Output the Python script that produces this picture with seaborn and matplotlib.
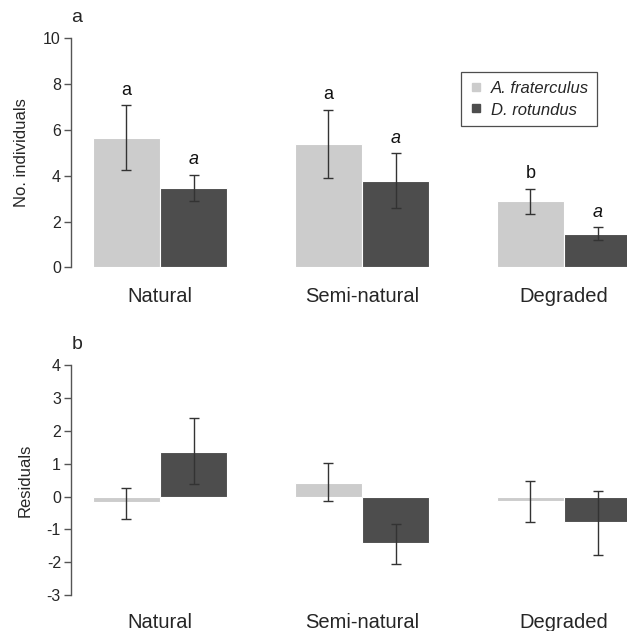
import matplotlib
matplotlib.use("Agg")
import matplotlib.pyplot as plt
from matplotlib.lines import Line2D
import seaborn as sns
import pandas as pd
import numpy as np

habitats = ["Natural", "Semi-natural", "Degraded"]
species = ["A. fraterculus", "D. rotundus"]

# Panel a: number of individuals (mean, lower, upper)
af_mean = [5.65, 5.37, 2.88]
af_low = [4.27, 3.89, 2.33]
af_high = [7.07, 6.88, 3.43]
dr_mean = [3.45, 3.77, 1.45]
dr_low = [2.89, 2.58, 1.19]
dr_high = [4.05, 4.98, 1.75]
af_letters = ["a", "a", "b"]
dr_letters = ["a", "a", "a"]

# Panel b: residuals (mean, lower, upper)
af_res = [-0.17, 0.42, -0.13]
af_res_low = [-0.67, -0.13, -0.77]
af_res_high = [0.27, 1.03, 0.46]
dr_res = [1.37, -1.42, -0.78]
dr_res_low = [0.39, -2.05, -1.79]
dr_res_high = [2.40, -0.83, 0.18]

light = "#cccccc"
dark = "#4d4d4d"
axis_col = "#555555"

sns.set_style("white")
plt.rcParams["font.family"] = ["Liberation Sans", "DejaVu Sans"]
plt.rcParams["axes.unicode_minus"] = False

fig = plt.figure(figsize=(6.27, 6.31), dpi=100)
W, H = 627, 631
left = 70.7 / W
width = 1 - left
ax1 = fig.add_axes([left, 1 - 267.3 / H, width, (267.3 - 38.3) / H])
ax2 = fig.add_axes([left, 1 - 595 / H, width, (595 - 365.3) / H])


def draw(ax, m1, lo1, hi1, m2, lo2, hi2):
    df = pd.DataFrame({
        "habitat": habitats * 2,
        "species": [species[0]] * 3 + [species[1]] * 3,
        "value": list(m1) + list(m2),
    })
    sns.barplot(data=df, x="habitat", y="value", hue="species",
                order=habitats, hue_order=species,
                palette=[light, dark], width=0.665, errorbar=None,
                edgecolor="white", linewidth=0.8, legend=False, ax=ax,
                saturation=1)
    tops = []
    for cont, m, lo, hi in zip(ax.containers, [m1, m2], [lo1, lo2], [hi1, hi2]):
        xs = [b.get_x() + b.get_width() / 2 for b in cont]
        m = np.array(m); lo = np.array(lo); hi = np.array(hi)
        ax.errorbar(xs, m, yerr=[m - lo, hi - m], fmt="none",
                    ecolor="#333333", elinewidth=1, capsize=3.4,
                    capthick=1, zorder=5)
        tops.append((xs, hi))
    ax.set_xlim(-0.442, 2.312)
    for s in ["top", "right", "bottom"]:
        ax.spines[s].set_visible(False)
    ax.spines["left"].set_color(axis_col)
    ax.spines["left"].set_linewidth(1)
    ax.tick_params(axis="y", left=True, length=5, width=1, color=axis_col,
                   labelsize=11.5, pad=2)
    ax.tick_params(axis="x", bottom=False, length=0, labelsize=14.5, pad=14)
    ax.set_xlabel("")
    return tops


tops = draw(ax1, af_mean, af_low, af_high, dr_mean, dr_low, dr_high)
ax1.set_ylim(0, 10)
ax1.set_yticks([0, 2, 4, 6, 8, 10])
ax1.set_ylabel("No. individuals", fontsize=12, labelpad=10)
for (xs, hi), letters, style in zip(tops, [af_letters, dr_letters], ["normal", "italic"]):
    for x, h, t in zip(xs, hi, letters):
        ax1.text(x, h + 0.45, t, ha="center", va="baseline", fontsize=13,
                 style=style, color="#111111")

handles = [Line2D([], [], marker="s", linestyle="none", markersize=5.5,
                  markerfacecolor=c, markeredgecolor=c) for c in [light, dark]]
leg = ax1.legend(handles, species, loc="upper right",
                 bbox_to_anchor=(0.946, 0.853), borderaxespad=0,
                 frameon=True, fancybox=False, handlelength=0.8,
                 handletextpad=0.45, borderpad=0.5, labelspacing=0.3,
                 handleheight=1.0,
                 prop={"style": "italic", "size": 12})
leg.get_frame().set_edgecolor("#222222")
leg.get_frame().set_linewidth(0.9)

draw(ax2, af_res, af_res_low, af_res_high, dr_res, dr_res_low, dr_res_high)
ax2.set_ylim(-3, 4)
ax2.set_yticks(list(range(-3, 5)))
ax2.set_ylabel("Residuals", fontsize=12, labelpad=10)
ax2.tick_params(axis="x", pad=13)

fig.text(77 / W, 1 - 22 / H, "a", ha="center", va="baseline", fontsize=14)
fig.text(77 / W, 1 - 349 / H, "b", ha="center", va="baseline", fontsize=14)

fig.savefig("out.png", dpi=100)
